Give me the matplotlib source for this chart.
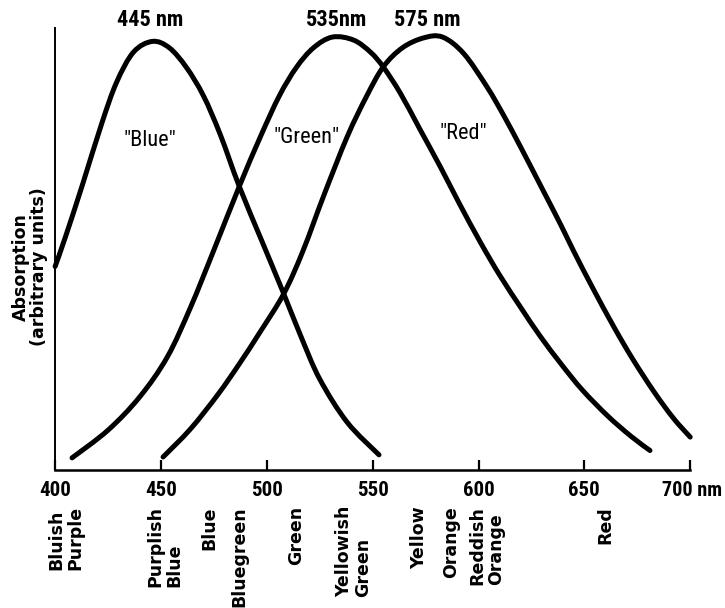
import matplotlib
matplotlib.use("Agg")
import matplotlib.pyplot as plt
from matplotlib import font_manager
from matplotlib.path import Path
from matplotlib.patches import PathPatch

# ---- data ----
blue_nm = [400, 405, 413, 422, 429, 437, 446, 454, 462, 470, 478, 487, 498, 508, 516, 525, 538, 553]
blue_val = [0.47, 0.54, 0.66, 0.80, 0.895, 0.965, 0.99, 0.975, 0.93, 0.865, 0.775, 0.655, 0.525,
            0.407, 0.31, 0.21, 0.11, 0.035]

green_nm = [408, 425, 440, 453, 464, 475, 487, 497, 506, 514, 522, 531, 541, 549, 555, 563, 572, 582,
            591, 601, 610, 620, 629, 639, 649, 661, 672, 681]
green_val = [0.028, 0.092, 0.169, 0.261, 0.376, 0.508, 0.655, 0.77, 0.865, 0.93, 0.975, 1.0, 0.993,
             0.965, 0.931, 0.871, 0.79, 0.70, 0.615, 0.525, 0.45, 0.375, 0.31, 0.245, 0.185, 0.125,
             0.078, 0.045]

red_nm = [451, 464, 477, 487, 497, 508, 517, 527, 538, 547, 555, 564, 574, 583, 593, 604, 612, 620,
          629, 639, 645, 654, 664, 673, 683, 692, 700]
red_val = [0.030, 0.095, 0.175, 0.245, 0.32, 0.407, 0.505, 0.635, 0.77, 0.862, 0.931, 0.975, 0.998,
           1.0, 0.962, 0.885, 0.818, 0.745, 0.66, 0.565, 0.505, 0.42, 0.33, 0.255, 0.18, 0.12, 0.076]

tick_nm = [400, 450, 500, 550, 600, 650, 700]
tick_labels = ["400", "450", "500", "550", "600", "650", "700 nm"]

peak_nm = [445, 533, 576]
peak_labels = ["445 nm", "535nm", "575 nm"]

curve_labels = ['"Blue"', '"Green"', '"Red"']
curve_label_nm = [445, 519, 593]
curve_label_val = [0.762, 0.767, 0.778]

color_names = ["Bluish\nPurple", "Purplish\nBlue", "Blue", "Bluegreen", "Green",
               "Yellowish\nGreen", "Yellow", "Orange", "Reddish\nOrange", "Red"]
color_name_nm = [405, 452, 473, 487, 514, 541, 572, 587, 604, 660]

# ---- fonts ----
names = {f.name for f in font_manager.fontManager.ttflist}
narrow = "DejaVu Sans"
for cand in ["Roboto Condensed", "Liberation Sans Narrow", "DejaVu Sans Condensed"]:
    if cand in names:
        narrow = cand
        break


def smooth_path(xs, ys):
    """Catmull-Rom rendering of the read points as cubic Bezier segments."""
    pts = list(zip(xs, ys))
    verts = [pts[0]]
    codes = [Path.MOVETO]
    n = len(pts)
    for i in range(n - 1):
        p0 = pts[i - 1] if i > 0 else pts[i]
        p1 = pts[i]
        p2 = pts[i + 1]
        p3 = pts[i + 2] if i + 2 < n else pts[i + 1]
        c1 = (p1[0] + (p2[0] - p0[0]) / 6.0, p1[1] + (p2[1] - p0[1]) / 6.0)
        c2 = (p2[0] - (p3[0] - p1[0]) / 6.0, p2[1] - (p3[1] - p1[1]) / 6.0)
        verts += [c1, c2, p2]
        codes += [Path.CURVE4, Path.CURVE4, Path.CURVE4]
    return Path(verts, codes)


fig = plt.figure(figsize=(7.25, 6.08), dpi=100)
ax = fig.add_axes([0.076, 0.227, 0.876, 0.727])

for xs, ys in [(blue_nm, blue_val), (green_nm, green_val), (red_nm, red_val)]:
    patch = PathPatch(smooth_path(xs, ys), facecolor="none", edgecolor="black", lw=3.6,
                      capstyle="round", joinstyle="round", clip_on=False)
    ax.add_patch(patch)

ax.set_xlim(400, 700)
ax.set_ylim(0, 1.021)
ax.spines["top"].set_visible(False)
ax.spines["right"].set_visible(False)
ax.spines["left"].set_linewidth(1.4)
ax.spines["bottom"].set_linewidth(1.8)
ax.set_yticks([])
ax.set_xticks(tick_nm)
ax.set_xticklabels(["" for _ in tick_nm])
ax.tick_params(axis="x", direction="in", length=7, width=1.6, pad=4)

for nm, lab in zip(tick_nm, tick_labels):
    if lab.endswith("nm"):
        ax.annotate(lab, xy=(nm, 0), xycoords="data", xytext=(23, -8), textcoords="offset points",
                    ha="right", va="top", fontsize=14.5, fontweight="bold", family=narrow)
    else:
        ax.annotate(lab, xy=(nm, 0), xycoords="data", xytext=(0, -8), textcoords="offset points",
                    ha="center", va="top", fontsize=15, fontweight="bold", family=narrow)

for nm, lab in zip(peak_nm, peak_labels):
    ax.text(nm, 1.039, lab, ha="center", va="center", fontsize=16, fontweight="bold",
            family=narrow, clip_on=False)

for nm, v, lab in zip(curve_label_nm, curve_label_val, curve_labels):
    ax.text(nm, v, lab, ha="center", va="center", fontsize=16, family=narrow)

for nm, lab in zip(color_name_nm, color_names):
    ax.annotate(lab, xy=(nm, 0), xycoords="data", xytext=(0, -26), textcoords="offset points",
                ha="center", va="top", rotation=90, multialignment="left",
                fontsize=12.5, fontweight="bold", family="DejaVu Sans", linespacing=1.05)

ax.text(-0.039, 0.459, "Absorption\n(arbitrary units)", transform=ax.transAxes, rotation=90,
        ha="center", va="center", fontsize=12.5, fontweight="bold", family="DejaVu Sans",
        linespacing=1.0)

fig.savefig("out.png", dpi=100, facecolor="white")
